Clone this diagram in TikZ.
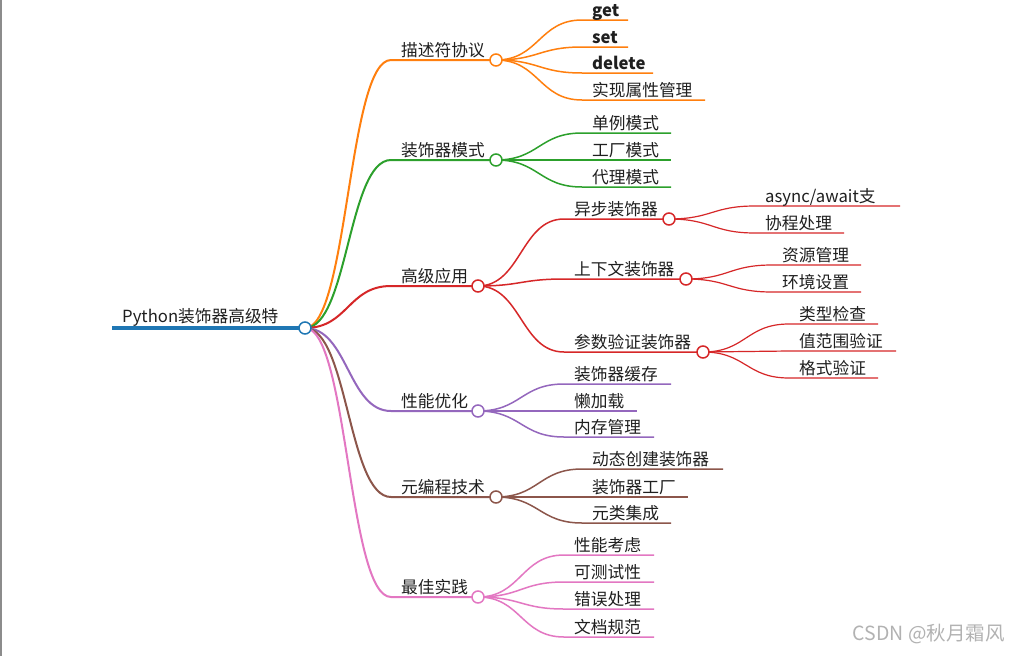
\documentclass[tikz,border=0pt]{standalone}
\usepackage{fontspec}
\setmainfont{Noto Sans CJK SC}
\definecolor{cRoot}{HTML}{1F77B4}
\definecolor{cOr}{HTML}{FF7F0E}
\definecolor{cGr}{HTML}{2CA02C}
\definecolor{cRe}{HTML}{D62728}
\definecolor{cPu}{HTML}{9467BD}
\definecolor{cBr}{HTML}{8C564B}
\definecolor{cPi}{HTML}{E377C2}
\begin{document}
\begin{tikzpicture}[x=1pt,y=-1pt,
  lbl/.style={anchor=base west, inner sep=0pt, font=\fontsize{16.7}{20}\selectfont, text=black!88},
  blbl/.style={lbl, font=\fontsize{16.7}{20}\selectfont\bfseries},
  dot/.style={circle, draw=#1, fill=white, minimum size=12pt, inner sep=0pt, line width=1.5pt},
  e1/.style={line width=2pt},
  e2/.style={line width=1.5pt},
  e3/.style={line width=1.2pt},
  crv/.style={to path={.. controls +(43,0) and +(-43,0) .. (\tikztotarget)}}]
\useasboundingbox (0,0) rectangle (1009,656);
\fill[white] (0,0) rectangle (1009,656);
\fill[black!45] (0,0) rectangle (2,656);

% circle centres
\coordinate (Rc) at (305,328);
\coordinate (Ac) at (496,60);
\coordinate (Bc) at (496,160);
\coordinate (Cc) at (478,286);
\coordinate (Dc) at (478,411);
\coordinate (Ec) at (496,497);
\coordinate (Fc) at (478,597);
\coordinate (C1c) at (669,219);
\coordinate (C2c) at (686,279);
\coordinate (C3c) at (703,352);

% root
\coordinate (Rs) at (112,328);
\draw[cRoot, line width=4pt] (Rs) -- (Rc);
\node[lbl] (R) at (122,322) {Python装饰器高级特};

% level 1
\coordinate (As) at (391,60);  \coordinate (Bs) at (391,160); \coordinate (Cs) at (391,286);
\coordinate (Ds) at (391,411); \coordinate (Es) at (391,497); \coordinate (Fs) at (391,597);
\draw[cOr,e1] (Rc) to[crv] (As) -- (Ac);
\draw[cGr,e1] (Rc) to[crv] (Bs) -- (Bc);
\draw[cRe,e1] (Rc) to[crv] (Cs) -- (Cc);
\draw[cPu,e1] (Rc) to[crv] (Ds) -- (Dc);
\draw[cBr,e1] (Rc) to[crv] (Es) -- (Ec);
\draw[cPi,e1] (Rc) to[crv] (Fs) -- (Fc);
\node[lbl] (A) at (401,56) {描述符协议};
\node[lbl] (B) at (401,156) {装饰器模式};
\node[lbl] (C) at (401,282) {高级应用};
\node[lbl] (D) at (401,407) {性能优化};
\node[lbl] (E) at (401,493) {元编程技术};
\node[lbl] (F) at (401,593) {最佳实践};

% level 2 under A
\coordinate (A1s) at (582,20);  \coordinate (A1e) at (628,20);
\coordinate (A2s) at (582,47);  \coordinate (A2e) at (628,47);
\coordinate (A3s) at (582,73);  \coordinate (A3e) at (653,73);
\coordinate (A4s) at (582,100); \coordinate (A4e) at (705,100);
\draw[cOr,e2] (Ac) to[crv] (A1s) -- (A1e);
\draw[cOr,e2] (Ac) to[crv] (A2s) -- (A2e);
\draw[cOr,e2] (Ac) to[crv] (A3s) -- (A3e);
\draw[cOr,e2] (Ac) to[crv] (A4s) -- (A4e);
\node[blbl] (A1) at (592,16) {get};
\node[blbl] (A2) at (592,43) {set};
\node[blbl] (A3) at (592,69) {delete};
\node[lbl] (A4) at (592,96) {实现属性管理};

% level 2 under B
\coordinate (B1s) at (582,133); \coordinate (B1e) at (671,133);
\coordinate (B2s) at (582,160); \coordinate (B2e) at (671,160);
\coordinate (B3s) at (582,187); \coordinate (B3e) at (671,187);
\draw[cGr,e2] (Bc) to[crv] (B1s) -- (B1e);
\draw[cGr,e2] (Bc) to[crv] (B2s) -- (B2e);
\draw[cGr,e2] (Bc) to[crv] (B3s) -- (B3e);
\node[lbl] (B1) at (592,129) {单例模式};
\node[lbl] (B2) at (592,156) {工厂模式};
\node[lbl] (B3) at (592,183) {代理模式};

% level 2 under C
\coordinate (C1s) at (564,219);
\coordinate (C2s) at (564,279);
\coordinate (C3s) at (564,352);
\draw[cRe,e2] (Cc) to[crv] (C1s) -- (C1c);
\draw[cRe,e2] (Cc) to[crv] (C2s) -- (C2c);
\draw[cRe,e2] (Cc) to[crv] (C3s) -- (C3c);
\node[lbl] (C1) at (574,215) {异步装饰器};
\node[lbl] (C2) at (574,275) {上下文装饰器};
\node[lbl] (C3) at (574,348) {参数验证装饰器};

% level 3 under C1
\coordinate (C11s) at (755,206); \coordinate (C11e) at (900,206);
\coordinate (C12s) at (755,233); \coordinate (C12e) at (844,233);
\draw[cRe,e3] (C1c) to[crv] (C11s) -- (C11e);
\draw[cRe,e3] (C1c) to[crv] (C12s) -- (C12e);
\node[lbl] (C11) at (765,202) {async/await支};
\node[lbl] (C12) at (765,229) {协程处理};

% level 3 under C2
\coordinate (C21s) at (772,265); \coordinate (C21e) at (861,265);
\coordinate (C22s) at (772,292); \coordinate (C22e) at (861,292);
\draw[cRe,e3] (C2c) to[crv] (C21s) -- (C21e);
\draw[cRe,e3] (C2c) to[crv] (C22s) -- (C22e);
\node[lbl] (C21) at (782,261) {资源管理};
\node[lbl] (C22) at (782,288) {环境设置};

% level 3 under C3
\coordinate (C31s) at (789,324); \coordinate (C31e) at (878,324);
\coordinate (C32s) at (789,351); \coordinate (C32e) at (896,351);
\coordinate (C33s) at (789,378); \coordinate (C33e) at (878,378);
\draw[cRe,e3] (C3c) to[crv] (C31s) -- (C31e);
\draw[cRe,e3] (C3c) to[crv] (C32s) -- (C32e);
\draw[cRe,e3] (C3c) to[crv] (C33s) -- (C33e);
\node[lbl] (C31) at (799,320) {类型检查};
\node[lbl] (C32) at (799,347) {值范围验证};
\node[lbl] (C33) at (799,374) {格式验证};

% level 2 under D
\coordinate (D1s) at (564,384); \coordinate (D1e) at (671,384);
\coordinate (D2s) at (564,411); \coordinate (D2e) at (637,411);
\coordinate (D3s) at (564,437); \coordinate (D3e) at (654,437);
\draw[cPu,e2] (Dc) to[crv] (D1s) -- (D1e);
\draw[cPu,e2] (Dc) to[crv] (D2s) -- (D2e);
\draw[cPu,e2] (Dc) to[crv] (D3s) -- (D3e);
\node[lbl] (D1) at (574,380) {装饰器缓存};
\node[lbl] (D2) at (574,407) {懒加载};
\node[lbl] (D3) at (574,433) {内存管理};

% level 2 under E
\coordinate (E1s) at (582,469); \coordinate (E1e) at (723,469);
\coordinate (E2s) at (582,497); \coordinate (E2e) at (688,497);
\coordinate (E3s) at (582,523); \coordinate (E3e) at (671,523);
\draw[cBr,e2] (Ec) to[crv] (E1s) -- (E1e);
\draw[cBr,e2] (Ec) to[crv] (E2s) -- (E2e);
\draw[cBr,e2] (Ec) to[crv] (E3s) -- (E3e);
\node[lbl] (E1) at (592,465) {动态创建装饰器};
\node[lbl] (E2) at (592,493) {装饰器工厂};
\node[lbl] (E3) at (592,519) {元类集成};

% level 2 under F
\coordinate (F1s) at (564,555); \coordinate (F1e) at (654,555);
\coordinate (F2s) at (564,582); \coordinate (F2e) at (654,582);
\coordinate (F3s) at (564,609); \coordinate (F3e) at (654,609);
\coordinate (F4s) at (564,637); \coordinate (F4e) at (654,637);
\draw[cPi,e2] (Fc) to[crv] (F1s) -- (F1e);
\draw[cPi,e2] (Fc) to[crv] (F2s) -- (F2e);
\draw[cPi,e2] (Fc) to[crv] (F3s) -- (F3e);
\draw[cPi,e2] (Fc) to[crv] (F4s) -- (F4e);
\node[lbl] (F1) at (574,551) {性能考虑};
\node[lbl] (F2) at (574,578) {可测试性};
\node[lbl] (F3) at (574,605) {错误处理};
\node[lbl] (F4) at (574,633) {文档规范};

% circles
\node[dot=cRoot] (Rd) at (Rc) {};
\node[dot=cOr] (Ad) at (Ac) {};
\node[dot=cGr] (Bd) at (Bc) {};
\node[dot=cRe] (Cd) at (Cc) {};
\node[dot=cPu] (Dd) at (Dc) {};
\node[dot=cBr] (Ed) at (Ec) {};
\node[dot=cPi] (Fd) at (Fc) {};
\node[dot=cRe] (C1d) at (C1c) {};
\node[dot=cRe] (C2d) at (C2c) {};
\node[dot=cRe] (C3d) at (C3c) {};

% watermark
\node[anchor=base east, inner sep=0pt, text=black!30, font=\fontsize{19.5}{22}\selectfont] (wm) at (1005,640) {CSDN @秋月霜风};
\end{tikzpicture}
\end{document}
